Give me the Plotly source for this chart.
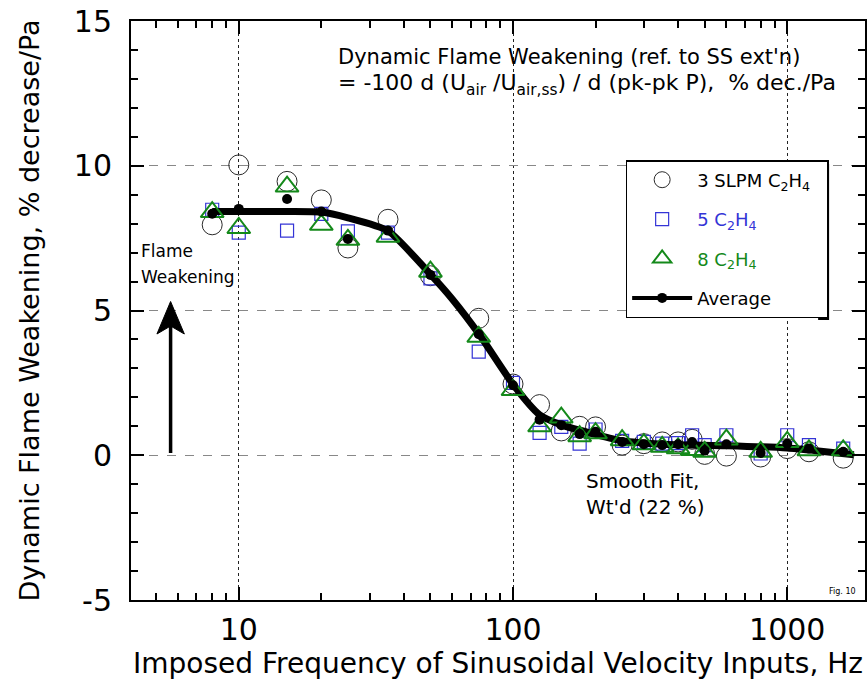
import plotly.graph_objects as go

# ---------------- data ----------------
freq_hz = [8, 10, 15, 20, 25, 35, 50, 75, 100, 125, 150, 175, 200, 250,
           300, 350, 400, 450, 500, 600, 800, 1000, 1200, 1600]

slpm3_c2h4 = [7.96, 10.03, 9.46, 8.82, 7.16, 8.15, 6.20, 4.73, 2.46, 1.75, 0.84, 1.00, 0.98, 0.35,
              0.40, 0.46, 0.46, 0.55, 0.03, -0.03, -0.06, 0.23, 0.12, -0.10]

slpm5_c2h4 = [8.48, 7.69, 7.76, 8.34, 7.73, 7.69, 6.11, 3.58, 2.50, 0.77, 0.98, 0.40, 0.89, 0.50,
              0.46, 0.40, 0.42, 0.69, 0.35, 0.69, 0.06, 0.69, 0.35, 0.23]

slpm8_c2h4 = [8.40, 7.85, 9.28, 7.96, 7.44, 7.55, 6.34, 4.09, 2.25, 1.00, 1.30, 0.66, 0.76, 0.52,
              0.38, 0.29, 0.24, 0.18, 0.12, 0.54, 0.12, 0.46, 0.17, 0.17]

average = [8.34, 8.51, 8.85, 8.42, 7.47, 7.76, 6.23, 4.18, 2.42, 1.23, 1.04, 0.73, 0.81, 0.46,
           0.38, 0.35, 0.38, 0.46, 0.16, 0.38, 0.08, 0.40, 0.23, 0.12]

fit_hz = [8, 10, 15, 20, 25, 35, 50, 60, 75, 100, 125, 150, 200, 250, 350, 600, 1000, 1300, 1750]
fit_val = [8.42, 8.42, 8.42, 8.40, 8.20, 7.75, 6.25, 5.40, 4.20, 2.45, 1.40, 1.05, 0.72, 0.50,
           0.38, 0.33, 0.25, 0.15, 0.02]

x_major = [10, 100, 1000]
x_major_text = ["10", "100", "1000"]
x_minor = [4, 5, 6, 7, 8, 9, 20, 30, 40, 50, 60, 70, 80, 90,
           200, 300, 400, 500, 600, 700, 800, 900, 2000]
y_major = [-5, 0, 5, 10, 15]
y_major_text = ["-5", "0", "5", "10", "15"]

# ---------------- layout geometry ----------------
W, H = 867, 680
L, R, T, B = 131, 0, 21, 80
PW, PH = W - L - R, H - T - B


def px_x(p):
    return (p - L) / PW


def px_y(p):
    return (H - B - p) / PH


FONT = "DejaVu Sans"
GREEN = "#14891a"
BLUE = "#3434d6"
NB = "\u00a0"

fig = go.Figure()

fig.add_trace(go.Scatter(
    x=freq_hz, y=slpm3_c2h4, mode="markers", name="3 SLPM C<sub>2</sub>H<sub>4</sub>" + NB + NB,
    legendrank=1, legendgroup="a",
    marker=dict(symbol="circle-open", size=20, color="#2a2a2a", line=dict(width=1))))
fig.add_trace(go.Scatter(
    x=freq_hz, y=slpm5_c2h4, mode="markers",
    name=f"<span style='color:{BLUE}'>5 C<sub>2</sub>H<sub>4</sub></span>",
    legendrank=2, legendgroup="b",
    marker=dict(symbol="square-open", size=13, color=BLUE, line=dict(width=1.2))))
fig.add_trace(go.Scatter(
    x=fit_hz, y=fit_val, mode="lines", showlegend=False,
    line=dict(color="black", width=7, shape="spline", smoothing=0.6)))
fig.add_trace(go.Scatter(
    x=freq_hz, y=slpm8_c2h4, mode="markers",
    name=f"<span style='color:{GREEN}'>8 C<sub>2</sub>H<sub>4</sub></span>",
    legendrank=3, legendgroup="c",
    marker=dict(symbol="triangle-up-open", size=20, color=GREEN, line=dict(width=2))))
fig.add_trace(go.Scatter(
    x=freq_hz, y=average, mode="markers", showlegend=False,
    marker=dict(symbol="circle", size=10, color="black")))
# legend-only entry for the average + smooth fit
fig.add_trace(go.Scatter(
    x=[None], y=[None], mode="lines+markers", name="Average",
    legendrank=4, legendgroup="d",
    line=dict(color="black", width=4), marker=dict(symbol="circle", size=10, color="black")))

annotations = [
    dict(x=px_x(337), y=px_y(57), text="Dynamic Flame Weakening (ref. to SS ext'n)",
         font=dict(size=21)),
    dict(x=px_x(337), y=px_y(84),
         text="= -100 d (U<sub>air</sub> /U<sub>air,ss</sub>) / d (pk-pk P)," + NB + NB + "% dec./Pa",
         font=dict(size=22)),
    dict(x=px_x(139), y=px_y(251), text="Flame", font=dict(size=17)),
    dict(x=px_x(139), y=px_y(277), text="Weakening", font=dict(size=17)),
    dict(x=px_x(585), y=px_y(481), text="Smooth Fit,", font=dict(size=20)),
    dict(x=px_x(585), y=px_y(507), text="Wt'd (22 %)", font=dict(size=20)),
    dict(x=px_x(844), y=px_y(591), text="Fig. 10", font=dict(size=8), xanchor="center"),
]
for a in annotations:
    a.setdefault("xanchor", "left")
    a.update(xref="paper", yref="paper", yanchor="middle", showarrow=False)

shapes = [
    # legend drop shadow
    dict(type="rect", xref="paper", yref="paper", layer="below",
         x0=px_x(820), x1=px_x(831), y0=px_y(320), y1=px_y(164),
         fillcolor="black", line=dict(width=0)),
    # "Flame Weakening" arrow shaft
    dict(type="line", xref="paper", yref="paper",
         x0=px_x(170.7), x1=px_x(170.7), y0=px_y(453), y1=px_y(325),
         line=dict(color="black", width=3.5)),
    # arrow head
    dict(type="path", xref="paper", yref="paper",
         path=(f"M {px_x(170.7)},{px_y(301.5)} L {px_x(184.5)},{px_y(334)} "
               f"L {px_x(170.7)},{px_y(326)} L {px_x(157)},{px_y(334)} Z"),
         fillcolor="black", line=dict(color="black", width=1)),
]

fig.update_layout(
    width=W, height=H,
    margin=dict(l=L, r=R, t=T, b=B),
    paper_bgcolor="white", plot_bgcolor="white",
    font=dict(family=FONT, color="black", size=17),
    annotations=annotations, shapes=shapes,
    legend=dict(x=px_x(627), y=px_y(160), xanchor="left", yanchor="top",
                bgcolor="white", bordercolor="black", borderwidth=1.5,
                font=dict(size=18, family=FONT), itemwidth=60,
                traceorder="grouped", tracegroupgap=13),
    showlegend=True,
)

fig.update_xaxes(
    type="log", range=[0.607, 3.2836],
    tickvals=x_major, ticktext=x_major_text,
    ticks="inside", ticklen=13, tickwidth=2, tickcolor="black",
    showline=True, linecolor="black", linewidth=2, mirror="allticks",
    showgrid=True, gridcolor="#222", griddash="dot", gridwidth=1,
    tickfont=dict(size=30), zeroline=False, ticklabelstandoff=2,
    minor=dict(tickvals=x_minor, ticks="inside", ticklen=7, tickwidth=1.5,
               tickcolor="black", showgrid=False),
    title=dict(text="Imposed Frequency of Sinusoidal Velocity Inputs, Hz",
               font=dict(size=28), standoff=1),
)
fig.update_yaxes(
    range=[-5, 15], tickvals=y_major, ticktext=y_major_text,
    ticks="inside", ticklen=13, tickwidth=2, tickcolor="black",
    showline=True, linecolor="black", linewidth=2, mirror="allticks",
    showgrid=True, gridcolor="#888", griddash="dash", gridwidth=1,
    tickfont=dict(size=30), zeroline=False, ticklabelstandoff=11,
    minor=dict(dtick=1, ticks="inside", ticklen=7, tickwidth=1.5,
               tickcolor="black", showgrid=False),
    title=dict(text="Dynamic Flame Weakening, % decrease/Pa",
               font=dict(size=27), standoff=26),
)

fig.write_html("out.html")
